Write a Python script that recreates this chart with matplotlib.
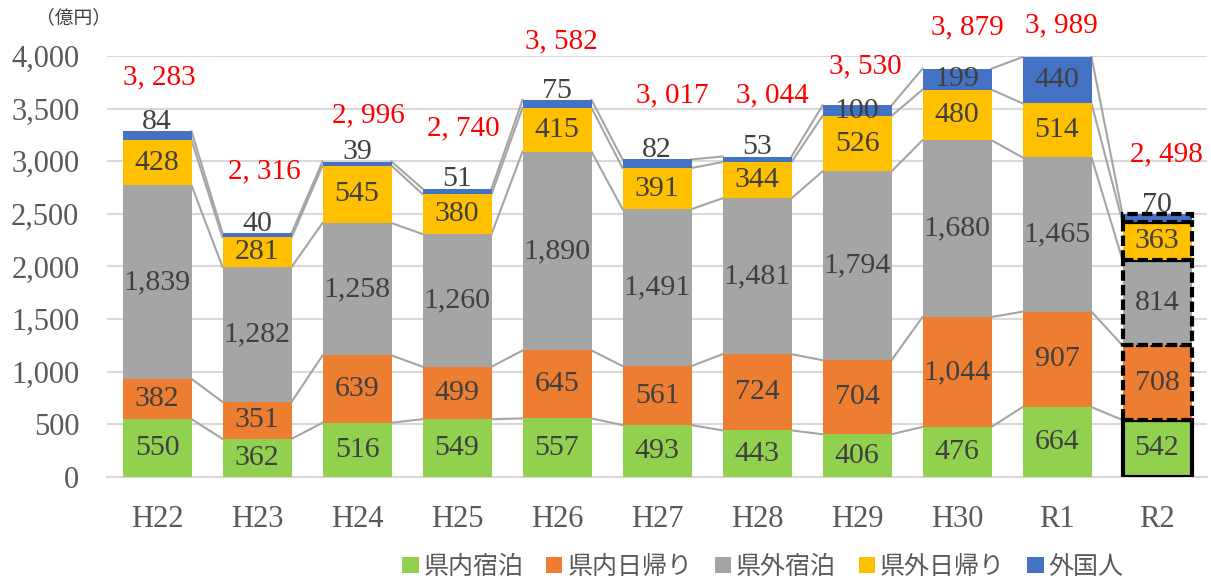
import numpy as np
import matplotlib
matplotlib.use("Agg")
from matplotlib import pyplot as plt

plt.rcParams['font.family'] = ['Liberation Serif', 'Noto Sans CJK JP', 'DejaVu Sans']

# data (億円)
years = ['H22', 'H23', 'H24', 'H25', 'H26', 'H27', 'H28', 'H29', 'H30', 'R1', 'R2']
series_names = ['県内宿泊', '県内日帰り', '県外宿泊', '県外日帰り', '外国人']
in_stay = [550, 362, 516, 549, 557, 493, 443, 406, 476, 664, 542]
in_day = [382, 351, 639, 499, 645, 561, 724, 704, 1044, 907, 708]
out_stay = [1839, 1282, 1258, 1260, 1890, 1491, 1481, 1794, 1680, 1465, 814]
out_day = [428, 281, 545, 380, 415, 391, 344, 526, 480, 514, 363]
foreign = [84, 40, 39, 51, 75, 82, 53, 100, 199, 440, 70]
totals = [3283, 2316, 2996, 2740, 3582, 3017, 3044, 3530, 3879, 3989, 2498]

colors = ['#92D050', '#ED7D31', '#A5A5A5', '#FFC000', '#4472C4']
# manual placement of the red total labels (pixels right / above bar top)
tot_dx = [2, 7, 11, 6, 4, 15, 15, 8, 10, 4, 9]
tot_dy = [54, 62, 46, 60, 59, 64, 61, 39, 41, 32, 60]

fig = plt.figure(figsize=(12.11, 5.82), dpi=100)
ax = fig.add_axes([0.0884, 0.1804, 0.9083, 0.7234])

x = np.arange(len(years))
w = 0.69
data = [in_stay, in_day, out_stay, out_day, foreign]
bottom = np.zeros(len(years))
tops = []
for k, (vals, c, name) in enumerate(zip(data, colors, series_names)):
    vals = np.array(vals, dtype=float)
    bars = ax.bar(x, vals, w, bottom=bottom, color=c, label=name, zorder=3)
    # last year highlighted with black dashed outline
    last = bars[-1]
    last.set_edgecolor('black')
    last.set_linewidth(3)
    last.set_linestyle('-' if k == 0 else (0, (2.5, 1)))
    for i in range(len(years)):
        v = vals[i]
        if k == 4 and v <= 100 and i != 7:
            yy = bottom[i] + v + 90
        else:
            yy = bottom[i] + v / 2
        ax.text(x[i], yy, f"{int(v):,}", ha='center', va='center',
                fontsize=21.5, color='#404040', zorder=5)
    bottom = bottom + vals
    tops.append(bottom.copy())

# series lines between bars
for t in tops:
    for i in range(len(years) - 1):
        ax.plot([x[i] + w / 2, x[i + 1] - w / 2], [t[i], t[i + 1]],
                color='#A5A5A5', lw=1.5, zorder=2)

# totals in red
for i, tv in enumerate(totals):
    ax.annotate(f"{tv:,}".replace(",", ", "), (x[i], bottom[i]),
                xytext=(tot_dx[i] * 0.72, tot_dy[i] * 0.72), textcoords='offset points',
                ha='center', va='center', fontsize=21, color='#FF0000', zorder=5)

ax.set_xlim(-0.5, len(years) - 0.5)
ax.set_ylim(0, 4000)
ax.set_yticks(np.arange(0, 4001, 500))
ax.yaxis.set_major_formatter(matplotlib.ticker.FuncFormatter(lambda v, p: f"{int(v):,}"))
ax.set_xticks(x)
ax.set_xticklabels(years)
ax.tick_params(axis='both', length=0, labelsize=22, colors='#595959')
ax.tick_params(axis='x', pad=20)
ax.tick_params(axis='y', pad=20)
ax.grid(axis='y', color='#D9D9D9', lw=1.5, zorder=0)
for s in ['top', 'right', 'left']:
    ax.spines[s].set_visible(False)
ax.spines['bottom'].set_color('#D9D9D9')
ax.spines['bottom'].set_linewidth(1.5)

fig.text(0.03, 0.97, '（億円）', fontsize=13.5, color='#404040', va='center',
         family=['Noto Sans CJK JP'])

h, l = ax.get_legend_handles_labels()
leg = fig.legend(h, l, loc='center', bbox_to_anchor=(0.63, 0.026), ncol=5, frameon=False,
                 prop={'family': 'Noto Sans CJK JP', 'size': 18}, handlelength=0.65,
                 handleheight=0.65, handletextpad=0.2, columnspacing=0.9)
for t in leg.get_texts():
    t.set_color('#595959')
for p in leg.get_patches():
    p.set_edgecolor('none')
    p.set_linewidth(0)

fig.savefig('out.png', dpi=100)
